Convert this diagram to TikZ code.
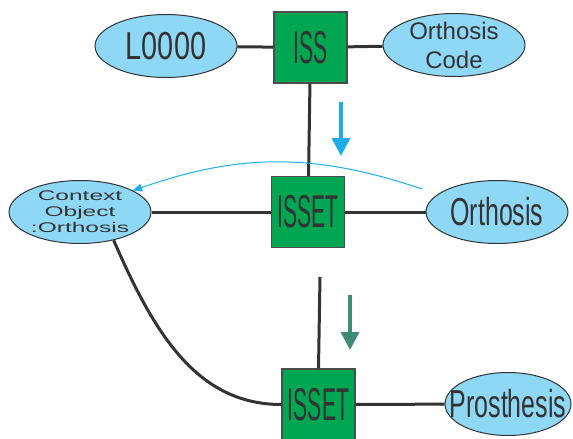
\documentclass[tikz,border=0pt]{standalone}
\usepackage{fontspec}
\setmainfont{Liberation Sans}
\newfontfamily\boxfont[FakeStretch=0.46]{Liberation Sans}
\newfontfamily\ellfont[FakeStretch=0.64]{Liberation Sans}
\newfontfamily\codefont[FakeStretch=0.74]{Liberation Sans}
\newfontfamily\widefont[FakeStretch=1.75]{Liberation Sans}
\usetikzlibrary{shapes.geometric,arrows.meta}
\definecolor{issgreen}{HTML}{00A651}
\definecolor{ellblue}{HTML}{8ED8F6}
\definecolor{linegray}{HTML}{333333}
\definecolor{arrblue}{HTML}{1BAEEA}
\definecolor{arrgreen}{HTML}{3E8B77}

\begin{document}
\begin{tikzpicture}[x=1pt,y=-1pt]
\tikzstyle{every node}+=[inner sep=0pt, text=linegray]
\tikzstyle{issbox}=[draw=black!70, line width=1.4pt, fill=issgreen, minimum width=73pt, minimum height=71pt, font=\boxfont\fontsize{46}{46}\selectfont]
\tikzstyle{attr}=[ellipse, draw=linegray, line width=1pt, fill=ellblue, minimum width=142pt, minimum height=63pt]
\tikzstyle{bigtxt}=[font=\ellfont\fontsize{39}{39}\selectfont, text=linegray]
\tikzstyle{smalltxt}=[font=\fontsize{24}{29}\selectfont, align=center, text=linegray]
\tikzstyle{widetxt}=[font=\widefont\fontsize{14}{16}\selectfont, align=center, text=linegray]
\tikzstyle{link}=[linegray, line width=3pt]
\tikzstyle{flow}=[line width=3.5pt, -{Triangle[length=18pt,width=18pt]}]
\clip (0,0) rectangle (573,439);
\useasboundingbox (0,0) rectangle (573,439);
\node[attr, label={[bigtxt, font=\codefont\fontsize{39}{39}\selectfont]center:L0000}] (lcode) at (166,46) {};
\node[attr, label={[smalltxt]center:Orthosis\\Code}] (ocode) at (454,45) {};
\node[attr, label={[widetxt]center:Context\\Object\\:Orthosis}] (ctx) at (80,212) {};
\node[attr, label={[bigtxt]center:Orthosis}] (orth) at (497,212) {};
\node[attr, minimum width=126pt, label={[bigtxt]center:Prosthesis}] (pros) at (508,404) {};
\node[issbox] (iss) at (310.5,47.5) {ISS};
\node[issbox] (isset) at (308,212) {ISSET};
\node[issbox] (isset2) at (318.5,404.5) {ISSET};
\coordinate (tail) at (320,277);
\coordinate (arcfrom) at (422,189);
\coordinate (bluetop) at (341,102);
\coordinate (bluetip) at (341,156);
\coordinate (greentop) at (350,295);
\coordinate (greentip) at (350,350);
\draw[link] (lcode) -- (iss);
\draw[link] (iss) -- (ocode);
\draw[link] (iss) -- (isset);
\draw[link] (ctx) -- (isset);
\draw[link] (isset) -- (orth);
\draw[link] (tail) -- (isset2.north);
\draw[link] (ctx.-40) .. controls +(40,92) and +(-85,0) .. (isset2.west);
\draw[link] (isset2) -- (pros);
\draw[arrblue, line width=1pt, -{Triangle[length=9pt,width=8pt]}] (arcfrom) to[bend right=19] (ctx.22);
\draw[flow, arrblue] (bluetop) -- (bluetip);
\draw[flow, arrgreen] (greentop) -- (greentip);
\end{tikzpicture}
\end{document}
